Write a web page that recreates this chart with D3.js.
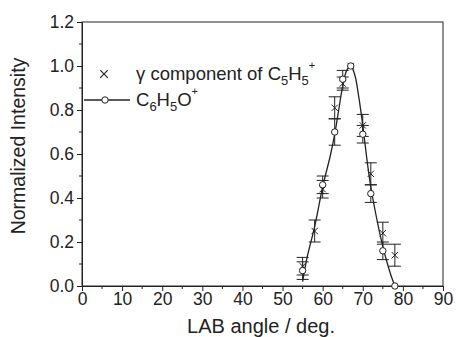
<!DOCTYPE html>
<html>
<head>
<meta charset="utf-8">
<script src="https://cdn.jsdelivr.net/npm/d3@7"></script>
<style>
  body { margin: 0; background: #fff; }
  svg text { font-family: "Liberation Sans", Arial, sans-serif; fill: #222; }
</style>
</head>
<body>
<div id="chart"></div>
<script>
// datos
const angles = [55, 58, 60, 63, 65, 67, 70, 72, 75, 78];
const c5h5 = [0.09, 0.25, 0.44, 0.81, 0.92, 1.0, 0.73, 0.51, 0.24, 0.14];
const c5h5Err = [0.04, 0.05, 0.04, 0.05, 0.03, 0.0, 0.05, 0.05, 0.05, 0.05];

const anglesO = [55, 60, 63, 65, 67, 70, 72, 75, 78];
const c6h5o = [0.07, 0.46, 0.70, 0.94, 1.0, 0.69, 0.42, 0.16, 0.0];
const c6h5oErr = [0.04, 0.04, 0.06, 0.04, 0.0, 0.04, 0.04, 0.04, 0.0];

// curva ajustada
const fitX = [55, 56, 58, 60, 62, 63, 64, 65, 66, 67, 68, 69, 70, 71, 72, 73, 74, 75, 76, 77, 78];
const fitY = [0.02, 0.12, 0.27, 0.45, 0.60, 0.69, 0.80, 0.91, 0.98, 1.0, 0.96, 0.86, 0.73, 0.58, 0.45, 0.35, 0.26, 0.18, 0.11, 0.05, 0.0];

const xTicks = [0, 10, 20, 30, 40, 50, 60, 70, 80, 90];
const yTicks = [0.0, 0.2, 0.4, 0.6, 0.8, 1.0, 1.2];

const W = 456, H = 337;
const m = {left: 82, right: 13, top: 22, bottom: 51};

const svg = d3.select("#chart").append("svg")
  .attr("width", W).attr("height", H);

const x = d3.scaleLinear().domain([0, 90]).range([m.left, W - m.right]);
const y = d3.scaleLinear().domain([0, 1.2]).range([H - m.bottom, m.top]);

// marco
svg.append("rect")
  .attr("x", x(0)).attr("y", y(1.2))
  .attr("width", x(90) - x(0)).attr("height", y(0) - y(1.2))
  .attr("fill", "none").attr("stroke", "#222").attr("stroke-width", 1);

// ejes
const xAxis = svg.append("g")
  .attr("transform", `translate(0,${y(0)})`)
  .call(d3.axisBottom(x).tickValues(xTicks).tickFormat(d3.format("d")).tickSize(5).tickPadding(2));
xAxis.append("g").selectAll("line")
  .data(d3.range(5, 90, 10))
  .join("line")
    .attr("x1", d => x(d)).attr("x2", d => x(d))
    .attr("y1", 0).attr("y2", 3)
    .attr("stroke", "#222");

const yAxis = svg.append("g")
  .attr("transform", `translate(${x(0)},0)`)
  .call(d3.axisLeft(y).tickValues(yTicks).tickFormat(d3.format(".1f")).tickSize(5).tickPadding(3));
yAxis.append("g").selectAll("line")
  .data(d3.range(0.1, 1.2, 0.2))
  .join("line")
    .attr("y1", d => y(d)).attr("y2", d => y(d))
    .attr("x1", 0).attr("x2", -3)
    .attr("stroke", "#222");

[xAxis, yAxis].forEach(a => {
  a.select(".domain").attr("stroke", "#222");
  a.selectAll(".tick line").attr("stroke", "#222");
  a.selectAll(".tick text").style("font-size", "17.5px").attr("fill", "#222");
});

// titulos
svg.append("text")
  .attr("x", 261).attr("y", 333)
  .attr("text-anchor", "middle")
  .style("font-size", "20px")
  .text("LAB angle / deg.");

svg.append("text")
  .attr("transform", `translate(25,${(y(0) + y(1.2)) / 2 - 8}) rotate(-90)`)
  .attr("text-anchor", "middle")
  .style("font-size", "19.5px")
  .text("Normalized Intensity");

// curva ajustada
const line = d3.line()
  .x((d, i) => x(fitX[i]))
  .y(d => y(d))
  .curve(d3.curveCatmullRom);
svg.append("path")
  .datum(fitY)
  .attr("d", line)
  .attr("fill", "none")
  .attr("stroke", "#222")
  .attr("stroke-width", 1.3);

// barras de error
function errorBars(xs, ys, es) {
  const g = svg.append("g").attr("stroke", "#222").attr("stroke-width", 1);
  xs.forEach((a, i) => {
    if (es[i] <= 0) return;
    const cx = x(a), top = y(ys[i] + es[i]), bot = y(ys[i] - es[i]);
    g.append("line").attr("x1", cx).attr("x2", cx).attr("y1", top).attr("y2", bot);
    g.append("line").attr("x1", cx - 6).attr("x2", cx + 6).attr("y1", top).attr("y2", top);
    g.append("line").attr("x1", cx - 6).attr("x2", cx + 6).attr("y1", bot).attr("y2", bot);
  });
}
errorBars(angles, c5h5, c5h5Err);
errorBars(anglesO, c6h5o, c6h5oErr);

// simbolos
const cross = d3.symbol().type(d3.symbolTimes).size(28);
svg.append("g").selectAll("path")
  .data(c5h5)
  .join("path")
    .attr("transform", (d, i) => `translate(${x(angles[i])},${y(d)})`)
    .attr("d", cross)
    .attr("fill", "none")
    .attr("stroke", "#222")
    .attr("stroke-width", 1);

svg.append("g").selectAll("circle")
  .data(c6h5o)
  .join("circle")
    .attr("cx", (d, i) => x(anglesO[i]))
    .attr("cy", d => y(d))
    .attr("r", 3.2)
    .attr("fill", "#fff")
    .attr("stroke", "#222")
    .attr("stroke-width", 1);

// leyenda
const leg = svg.append("g").style("font-size", "18.5px");
leg.append("path")
  .attr("transform", "translate(104,74)")
  .attr("d", d3.symbol().type(d3.symbolTimes).size(40))
  .attr("fill", "none")
  .attr("stroke", "#222")
  .attr("stroke-width", 1.1);
const t1 = leg.append("text").attr("x", 136).attr("y", 80);
t1.append("tspan").text("\u03b3 component of C");
t1.append("tspan").attr("dy", 5).style("font-size", "13px").text("5");
t1.append("tspan").attr("dy", -5).text("H");
t1.append("tspan").attr("dy", 5).style("font-size", "13px").text("5");
t1.append("tspan").attr("dy", -16).style("font-size", "11px").text("+");

leg.append("line")
  .attr("x1", 84).attr("x2", 130).attr("y1", 100).attr("y2", 100)
  .attr("stroke", "#222").attr("stroke-width", 1.3);
leg.append("circle")
  .attr("cx", 105).attr("cy", 100).attr("r", 3.2)
  .attr("fill", "#fff").attr("stroke", "#222");
const t2 = leg.append("text").attr("x", 136).attr("y", 106);
t2.append("tspan").text("C");
t2.append("tspan").attr("dy", 5).style("font-size", "13px").text("6");
t2.append("tspan").attr("dy", -5).text("H");
t2.append("tspan").attr("dy", 5).style("font-size", "13px").text("5");
t2.append("tspan").attr("dy", -5).text("O");
t2.append("tspan").attr("dy", -11).style("font-size", "11px").text("+");
</script>
</body>
</html>
